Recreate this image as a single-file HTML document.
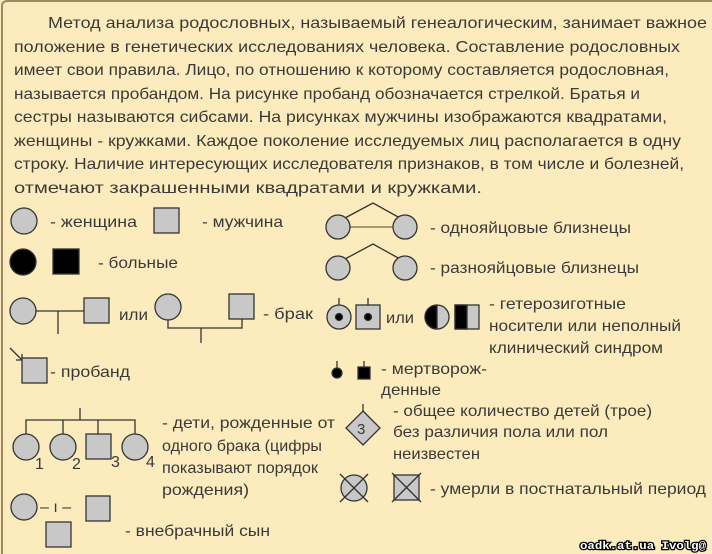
<!DOCTYPE html>
<html><head><meta charset="utf-8"><style>
html,body{margin:0;padding:0;background:#fcebbc;}
svg{display:block;font-family:"Liberation Sans",sans-serif;}
</style></head><body>
<svg width="712" height="554" viewBox="0 0 712 554" xmlns="http://www.w3.org/2000/svg">
<rect x="0" y="0" width="712" height="554" fill="#fcebbc"/>
<path d="M2 554 V6 Q2 1 8 1 H712" fill="none" stroke="#9c8a66" stroke-width="2"/>
<g font-size="16" fill="#3a3a3a">
<text x="48" y="28" textLength="659" lengthAdjust="spacingAndGlyphs">Метод анализа родословных, называемый генеалогическим, занимает важное</text>
<text x="14" y="52" textLength="666" lengthAdjust="spacingAndGlyphs">положение в генетических исследованиях человека. Составление родословных</text>
<text x="14" y="75" textLength="655" lengthAdjust="spacingAndGlyphs">имеет свои правила. Лицо, по отношению к которому составляется родословная,</text>
<text x="14" y="99" textLength="626" lengthAdjust="spacingAndGlyphs">называется пробандом. На рисунке пробанд обозначается стрелкой. Братья и</text>
<text x="14" y="122" textLength="653" lengthAdjust="spacingAndGlyphs">сестры называются сибсами. На рисунках мужчины изображаются квадратами,</text>
<text x="14" y="146" textLength="667" lengthAdjust="spacingAndGlyphs">женщины - кружками. Каждое поколение исследуемых лиц располагается в одну</text>
<text x="14" y="169" textLength="670" lengthAdjust="spacingAndGlyphs">строку. Наличие интересующих исследователя признаков, в том числе и болезней,</text>
<text x="14" y="193" textLength="468" lengthAdjust="spacingAndGlyphs">отмечают закрашенными квадратами и кружками.</text>
</g>
<g stroke="#333" stroke-width="1.3" fill="#c8c8c8">
<circle cx="24" cy="221" r="13"/>
<rect x="154" y="208" width="25" height="25"/>
<circle cx="23" cy="262" r="13" fill="#000"/>
<rect x="53" y="249" width="26" height="25" fill="#000"/>
<line x1="36" y1="311" x2="84" y2="311"/><line x1="58" y1="311" x2="58" y2="334"/>
<circle cx="23" cy="311" r="13"/>
<rect x="84" y="298" width="25" height="25"/>
<polyline points="168,320 168,328 242,328 242,319" fill="none"/><line x1="201" y1="328" x2="201" y2="343"/>
<circle cx="168" cy="307" r="13"/>
<rect x="229" y="294" width="25" height="25"/>
<line x1="10" y1="348" x2="22" y2="360"/><polyline points="16,360 22,360 22,354" fill="none"/>
<rect x="22" y="358" width="25" height="25"/>
<line x1="80" y1="408" x2="80" y2="420"/>
<polyline points="26,434 26,420 135,420 135,434" fill="none"/>
<line x1="63" y1="420" x2="63" y2="434"/><line x1="98" y1="420" x2="98" y2="434"/>
<circle cx="26" cy="447" r="13"/><circle cx="63" cy="447" r="13"/>
<rect x="86" y="434" width="25" height="25"/><circle cx="135" cy="447" r="13"/>
<circle cx="24" cy="507" r="13"/>
<rect x="86" y="496" width="24" height="25"/>
<rect x="46" y="522" width="25" height="25"/>
<line x1="337" y1="227" x2="405" y2="227" stroke="#7a6a4a"/>
<polyline points="345,218 373,203 400,218" fill="none"/>
<circle cx="338" cy="227" r="12"/><circle cx="405" cy="227" r="12"/>
<polyline points="345,259 373,244 400,259" fill="none"/>
<circle cx="338" cy="268" r="12"/><circle cx="405" cy="268" r="12"/>
<line x1="339" y1="298" x2="339" y2="305"/><circle cx="339" cy="317" r="12"/>
<circle cx="339" cy="317" r="3.5" fill="#000"/>
<line x1="368" y1="298" x2="368" y2="305"/><rect x="356" y="305" width="24" height="24"/>
<circle cx="368" cy="317" r="3.5" fill="#000"/>
<circle cx="437" cy="317" r="12"/><path d="M437 305 A12 12 0 0 0 437 329 Z" fill="#000"/>
<rect x="455" y="305" width="24" height="24"/><rect x="455" y="305" width="12" height="24" fill="#000"/>
<line x1="337" y1="361" x2="337" y2="368"/><circle cx="337" cy="373" r="5" fill="#000"/>
<line x1="364" y1="361" x2="364" y2="367"/><rect x="358" y="367" width="12" height="12" fill="#000"/>
<line x1="363" y1="404" x2="363" y2="411"/>
<polygon points="363,411 380,428 363,445 346,428"/>
<circle cx="354" cy="488" r="13"/>
<line x1="340" y1="474" x2="368" y2="502"/><line x1="368" y1="474" x2="340" y2="502"/>
<rect x="394" y="475" width="25" height="25"/>
<line x1="392" y1="473" x2="421" y2="502"/><line x1="421" y1="473" x2="392" y2="502"/>
</g>
<g font-size="16" fill="#3a3a3a">
<text x="50" y="227" textLength="87" lengthAdjust="spacingAndGlyphs">- женщина</text>
<text x="202" y="227" textLength="81" lengthAdjust="spacingAndGlyphs">- мужчина</text>
<text x="98" y="268" textLength="80" lengthAdjust="spacingAndGlyphs">- больные</text>
<text x="119" y="320" textLength="29" lengthAdjust="spacingAndGlyphs">или</text>
<text x="263" y="319" textLength="50" lengthAdjust="spacingAndGlyphs">- брак</text>
<text x="50" y="377" textLength="80" lengthAdjust="spacingAndGlyphs">- пробанд</text>
<text x="162" y="428" textLength="173" lengthAdjust="spacingAndGlyphs">- дети, рожденные от</text>
<text x="162" y="451" textLength="160" lengthAdjust="spacingAndGlyphs">одного брака (цифры</text>
<text x="162" y="473" textLength="156" lengthAdjust="spacingAndGlyphs">показывают порядок</text>
<text x="162" y="495" textLength="87" lengthAdjust="spacingAndGlyphs">рождения)</text>
<text x="35" y="469">1</text><text x="72" y="469">2</text><text x="111" y="467">3</text><text x="146" y="467">4</text>
<text x="40" y="512">– ı –</text>
<text x="125" y="536" textLength="145" lengthAdjust="spacingAndGlyphs">- внебрачный сын</text>
<text x="430" y="233" textLength="201" lengthAdjust="spacingAndGlyphs">- однояйцовые близнецы</text>
<text x="430" y="273" textLength="209" lengthAdjust="spacingAndGlyphs">- разнояйцовые близнецы</text>
<text x="386" y="323" textLength="28" lengthAdjust="spacingAndGlyphs">или</text>
<text x="489" y="309" textLength="137" lengthAdjust="spacingAndGlyphs">- гетерозиготные</text>
<text x="489" y="331" textLength="192" lengthAdjust="spacingAndGlyphs">носители или неполный</text>
<text x="489" y="353" textLength="174" lengthAdjust="spacingAndGlyphs">клинический синдром</text>
<text x="381" y="374" textLength="106" lengthAdjust="spacingAndGlyphs">- мертворож-</text>
<text x="381" y="395" textLength="60" lengthAdjust="spacingAndGlyphs">денные</text>
<text x="357" y="434" font-size="15">3</text>
<text x="393" y="416" textLength="259" lengthAdjust="spacingAndGlyphs">- общее количество детей (трое)</text>
<text x="393" y="437" textLength="215" lengthAdjust="spacingAndGlyphs">без различия пола или пол</text>
<text x="393" y="459" textLength="87" lengthAdjust="spacingAndGlyphs">неизвестен</text>
<text x="430" y="494" textLength="276" lengthAdjust="spacingAndGlyphs">- умерли в постнатальный период</text>
</g>
<text x="580" y="549" font-size="11" font-weight="bold" fill="#fff" stroke="#000" stroke-width="2.5" paint-order="stroke" font-family="Liberation Mono, monospace" textLength="126" lengthAdjust="spacingAndGlyphs">oadk.at.ua  Ivolg@</text>
</svg>
</body></html>
